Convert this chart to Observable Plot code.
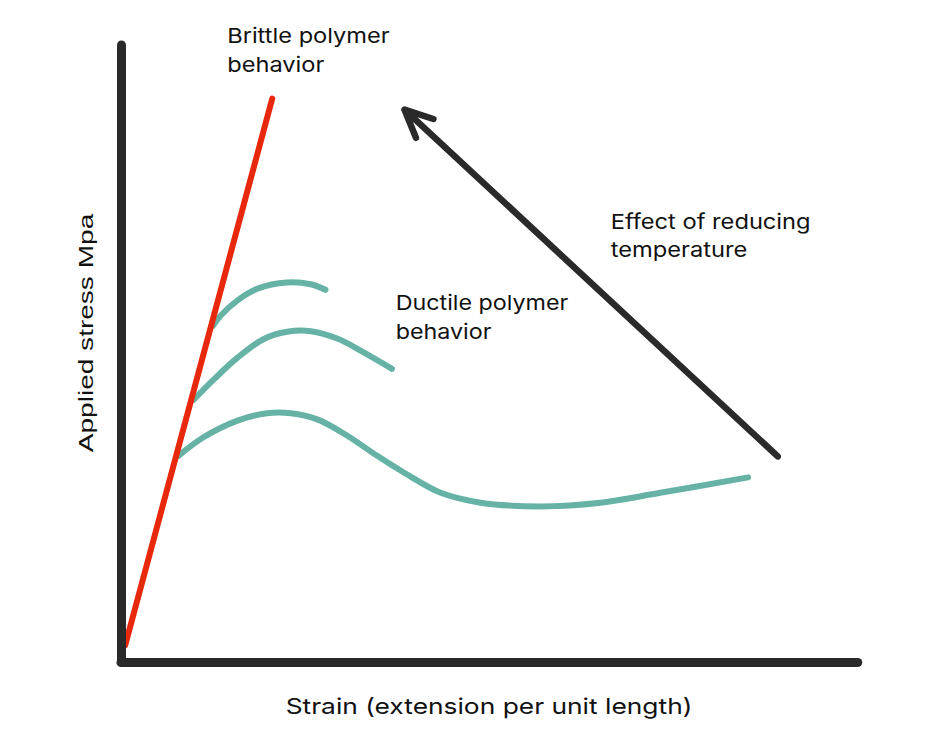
<!DOCTYPE html>
<html>
<head>
<meta charset="utf-8">
<script src="https://cdn.jsdelivr.net/npm/d3@7"></script>
<script src="https://cdn.jsdelivr.net/npm/@observablehq/plot@0.6"></script>
<style>
  html, body { margin: 0; padding: 0; background: #ffffff; }
  #chart { width: 950px; height: 738px; }
</style>
</head>
<body>
<div id="chart"></div>
<script>
// Values (strain 0..100, stress 0..100, arbitrary units)
const brittleStrain = [0.5, 20.4];
const brittleStress = [2.8, 91.4];

const ductile1Strain = [12.4, 13.4, 15.7, 18.4, 22.4, 25.6, 27.6];
const ductile1Stress = [54.6, 56.2, 58.7, 60.6, 61.6, 61.3, 60.4];

const ductile2Strain = [9.7, 12.6, 15.7, 19.2, 22.4, 25.6, 29.2, 32.7, 36.6];
const ductile2Stress = [42.5, 46.0, 49.4, 52.4, 53.6, 53.7, 52.5, 50.3, 47.6];

const ductile3Strain = [7.7, 11.1, 15.7, 19.7, 22.9, 26.5, 30.5, 34.6, 38.2, 43.2, 48.6, 56.7, 64.8, 72.9, 84.8];
const ductile3Stress = [33.5, 36.5, 39.2, 40.4, 40.4, 39.4, 36.8, 33.5, 30.8, 27.5, 25.9, 25.3, 25.9, 27.5, 30.0];

const arrowFrom = {strain: 88.8, stress: 33.4};
const arrowTo = {strain: 38.3, stress: 89.6};

const labels = [
  {text: "Brittle polymer\nbehavior", strain: 14.3, stress: 99.5},
  {text: "Ductile polymer\nbehavior", strain: 37.1, stress: 56.3},
  {text: "Effect of reducing\ntemperature", strain: 66.2, stress: 69.5}
];

const xTitle = "Strain (extension per unit length)";
const yTitle = "Applied stress Mpa";

const toRows = (xs, ys, series) => xs.map((x, i) => ({strain: x, stress: ys[i], series}));
const ductileRows = [
  ...toRows(ductile1Strain, ductile1Stress, "d1"),
  ...toRows(ductile2Strain, ductile2Stress, "d2"),
  ...toRows(ductile3Strain, ductile3Stress, "d3")
];
const brittleRows = toRows(brittleStrain, brittleStress, "b");

const ink = "#2a2a2a";
const teal = "#66b3a6";
const red = "#e8280c";

const chart = Plot.plot({
  width: 950,
  height: 738,
  marginLeft: 121,
  marginRight: 90,
  marginTop: 45,
  marginBottom: 76,
  x: {domain: [0, 100], axis: null},
  y: {domain: [0, 100], axis: null},
  style: {background: "#ffffff", overflow: "visible"},
  marks: [
    Plot.line(ductileRows, {x: "strain", y: "stress", z: "series", stroke: teal, strokeWidth: 6, curve: "catmull-rom", strokeLinecap: "round"}),
    Plot.line(brittleRows, {x: "strain", y: "stress", stroke: red, strokeWidth: 6, strokeLinecap: "round"}),
    Plot.arrow([{x1: arrowFrom.strain, y1: arrowFrom.stress, x2: arrowTo.strain, y2: arrowTo.stress}], {
      x1: "x1", y1: "y1", x2: "x2", y2: "y2",
      stroke: ink, strokeWidth: 6.5, headLength: 7, headAngle: 50, strokeLinecap: "round", strokeLinejoin: "round"
    }),
    Plot.ruleX([0], {y1: 0, y2: 100, stroke: ink, strokeWidth: 9, strokeLinecap: "round"}),
    Plot.ruleY([0], {x1: 0, x2: 99.7, stroke: ink, strokeWidth: 9, strokeLinecap: "round"}),
    Plot.text(labels, {x: "strain", y: "stress", text: "text", textAnchor: "start", lineAnchor: "middle",
      fontSize: 20.5, lineHeight: 1.4, fill: "#111111", fontFamily: "Inter, 'Noto Sans', sans-serif"}),
    Plot.text([xTitle], {frameAnchor: "bottom", lineAnchor: "middle", dy: 44, dx: -2, fontSize: 22, fill: "#111111",
      fontFamily: "Inter, 'Noto Sans', sans-serif"}),
    Plot.text([yTitle], {frameAnchor: "left", textAnchor: "middle", lineAnchor: "middle", dx: -35, dy: -21, rotate: -90, fontSize: 21, fill: "#111111",
      fontFamily: "'Liberation Sans', Arial, sans-serif"})
  ]
});
document.getElementById("chart").appendChild(chart);

// Stretch text along its reading direction to match the reference's wide lettering
const targets = [
  {start: "Brittle", width: 163},
  {start: "Ductile", width: 173},
  {start: "Effect", width: 200},
  {start: "Strain", width: 407},
  {start: "Applied", width: 239}
];
chart.querySelectorAll("text").forEach((el) => {
  const txt = el.textContent || "";
  const tg = targets.find((t) => txt.startsWith(t.start));
  if (!tg) return;
  const bb = el.getBBox();
  const t = el.getAttribute("transform") || "";
  const rotated = /rotate/.test(t);
  const w = rotated ? Math.max(bb.width, bb.height) : bb.width;
  if (!w) return;
  const s = tg.width / w;
  el.setAttribute("transform", `${t} scale(${s},1)`);
});
</script>
</body>
</html>
